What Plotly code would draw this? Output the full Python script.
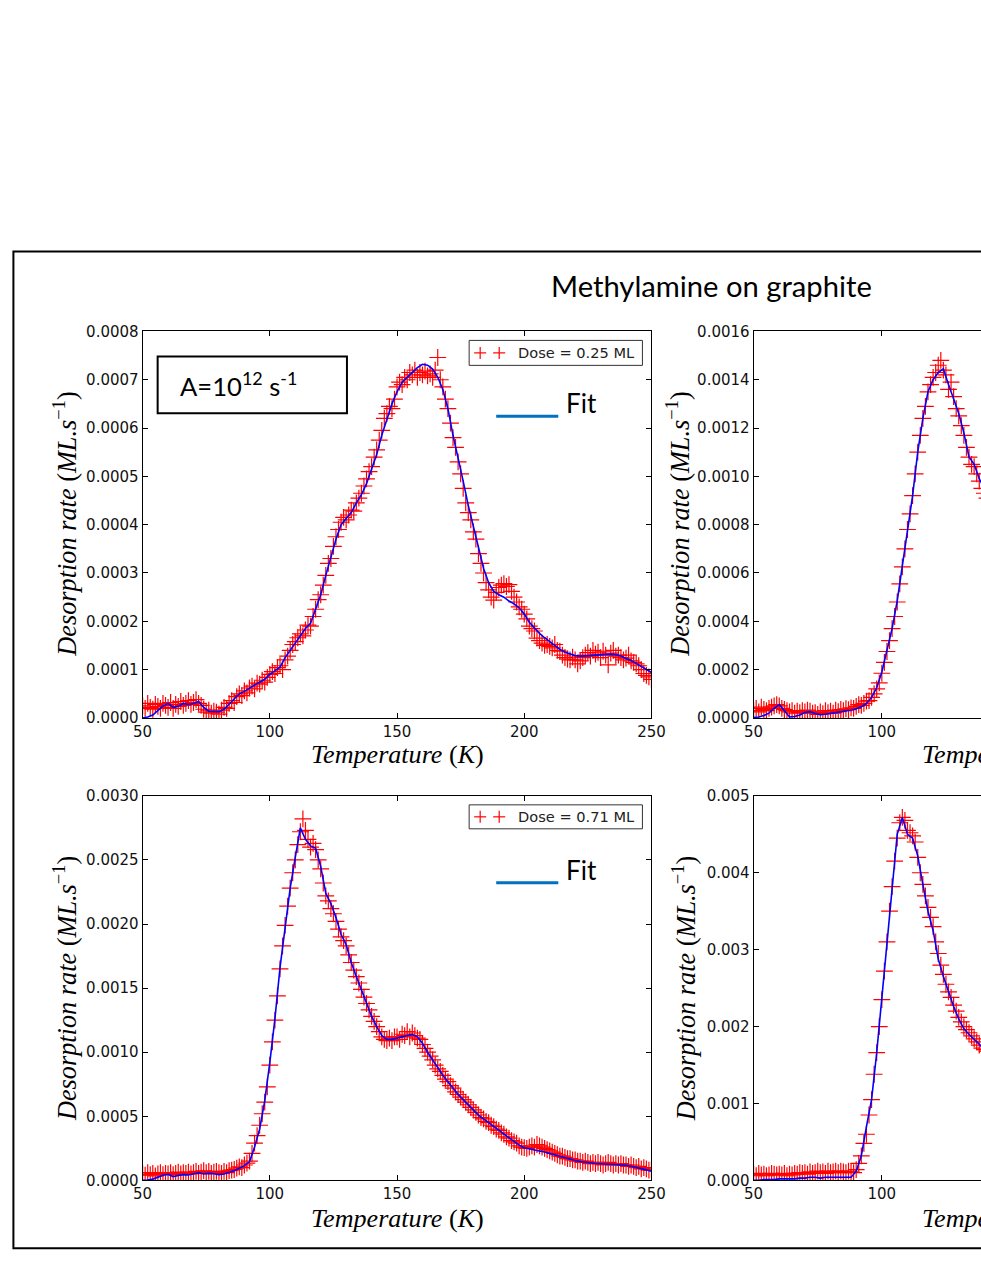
import plotly.graph_objects as go

# figure size (page pixels)
WD, HD = 1000, 1269

# ---------------- data (temperatures in K) ----------------
temp_data_full = list(range(50, 251))      # data sampling, left panels
temp_data_cut = list(range(50, 142))       # data sampling, right panels
temp_fit_full = list(range(50, 251, 2))
temp_fit_cut = list(range(50, 143, 2))

# Panel 1 (dose 0.25 ML), units of 1e-4 ML/s
p1_scale = 1e-4
p1_data = [
    0.25, 0.20, 0.30, 0.22, 0.18, 0.28, 0.24, 0.20, 0.30, 0.26,
    0.22, 0.32, 0.20, 0.28, 0.24, 0.34, 0.26, 0.30, 0.36, 0.28,
    0.32, 0.38, 0.30, 0.26, 0.18, 0.12, 0.16, 0.10, 0.14, 0.12,
    0.08, 0.16, 0.22, 0.20, 0.30, 0.36, 0.32, 0.44, 0.50, 0.46,
    0.56, 0.52, 0.62, 0.66, 0.60, 0.72, 0.70, 0.78, 0.74, 0.84,
    0.90, 0.96, 0.92, 1.04, 1.08, 1.00, 1.20, 1.28, 1.40, 1.52,
    1.58, 1.66, 1.74, 1.70, 1.82, 1.92, 1.90, 2.10, 2.25, 2.45,
    2.55, 2.75, 2.95, 3.20, 3.30, 3.55, 3.75, 3.90, 4.05, 4.15,
    4.10, 4.20, 4.30, 4.28, 4.45, 4.55, 4.65, 4.80, 4.95, 5.10,
    5.20, 5.40, 5.55, 5.75, 5.95, 6.20, 6.30, 6.45, 6.40, 6.60,
    6.85, 6.95, 6.90, 7.05, 7.00, 7.15, 7.10, 7.20, 7.05, 7.15,
    7.10, 7.18, 7.08, 7.12, 7.05, 7.20, 7.46, 7.00, 6.85, 6.60,
    6.40, 6.10, 5.80, 5.60, 5.30, 5.05, 4.75, 4.45, 4.25, 4.10,
    3.85, 3.70, 3.40, 3.20, 3.00, 2.80, 2.65, 2.50, 2.44, 2.60,
    2.70, 2.75, 2.78, 2.72, 2.76, 2.62, 2.50, 2.40, 2.30, 2.25,
    2.15, 2.05, 1.90, 1.85, 1.80, 1.65, 1.60, 1.55, 1.50, 1.52,
    1.48, 1.45, 1.52, 1.40, 1.38, 1.30, 1.25, 1.22, 1.20, 1.26,
    1.20, 1.12, 1.18, 1.25, 1.30, 1.35, 1.28, 1.40, 1.32, 1.36,
    1.25, 1.38, 1.30, 1.10, 1.34, 1.40, 1.28, 1.30, 1.25, 1.20,
    1.24, 1.30, 1.18, 1.15, 1.12, 1.08, 1.00, 0.92, 0.88, 0.85,
    0.80,
]
p1_fit = [
    0.0, 0.02, 0.06, 0.15, 0.25, 0.30, 0.22, 0.24, 0.30, 0.28,
    0.30, 0.34, 0.22, 0.14, 0.14, 0.13, 0.18, 0.28, 0.40, 0.50,
    0.55, 0.62, 0.68, 0.74, 0.80, 0.90, 0.98, 1.05, 1.25, 1.40,
    1.55, 1.70, 1.85, 1.96, 2.25, 2.55, 2.95, 3.33, 3.70, 4.00,
    4.12, 4.25, 4.45, 4.62, 4.85, 5.15, 5.45, 5.85, 6.20, 6.50,
    6.75, 6.95, 7.05, 7.15, 7.25, 7.32, 7.30, 7.22, 7.05, 6.80,
    6.40, 5.85, 5.40, 4.90, 4.40, 3.95, 3.50, 3.10, 2.80, 2.62,
    2.55, 2.50, 2.42, 2.36, 2.28, 2.15, 1.98, 1.86, 1.75, 1.66,
    1.58, 1.50, 1.42, 1.36, 1.32, 1.29, 1.28, 1.28, 1.29, 1.30,
    1.31, 1.32, 1.32, 1.31, 1.28, 1.23, 1.19, 1.13, 1.07, 1.01,
    0.94,
]

# Panel 2 (top right), units of 1e-4 ML/s
p2_scale = 1e-4
p2_data = [
    0.30, 0.40, 0.25, 0.45, 0.35, 0.30, 0.40, 0.45, 0.50, 0.55,
    0.50, 0.40, 0.35, 0.30, 0.25, 0.30, 0.20, 0.28, 0.22, 0.30,
    0.25, 0.32, 0.28, 0.20, 0.22, 0.15, 0.25, 0.18, 0.30, 0.22,
    0.28, 0.20, 0.32, 0.26, 0.35, 0.30, 0.38, 0.34, 0.42, 0.40,
    0.48, 0.55, 0.52, 0.60, 0.70, 0.72, 0.85, 1.00, 1.20, 1.45,
    1.85, 2.30, 2.75, 3.20, 3.70, 4.20, 4.80, 5.55, 6.25, 7.00,
    7.80, 8.45, 9.20, 10.1, 11.0, 11.7, 12.4, 12.9, 13.5, 13.8,
    14.1, 14.3, 14.6, 14.8, 14.4, 14.2, 13.6, 13.9, 13.3, 12.8,
    12.5, 12.1, 11.7, 11.2, 10.8, 10.5, 10.4, 10.1, 9.8, 9.5,
    9.3, 9.1,
]
p2_fit = [
    0.02, 0.04, 0.10, 0.20, 0.40, 0.55, 0.30, 0.04, 0.06, 0.12,
    0.22, 0.26, 0.18, 0.13, 0.15, 0.18, 0.20, 0.25, 0.30, 0.32,
    0.38, 0.46, 0.60, 0.85, 1.25, 1.90, 2.80, 3.70, 4.85, 6.30,
    7.80, 9.20, 11.0, 12.4, 13.5, 14.0, 14.3, 14.45, 13.8, 13.2,
    12.6, 11.8, 10.8, 10.5, 9.9, 9.5, 9.2,
]

# Panel 3 (dose 0.71 ML), units of 1e-4 ML/s
p3_scale = 1e-4
p3_data = [
    0.50, 0.40, 0.60, 0.45, 0.55, 0.35, 0.50, 0.60, 0.45, 0.55,
    0.50, 0.60, 0.45, 0.55, 0.65, 0.50, 0.60, 0.55, 0.65, 0.50,
    0.60, 0.70, 0.55, 0.65, 0.75, 0.60, 0.70, 0.55, 0.65, 0.70,
    0.60, 0.55, 0.70, 0.60, 0.75, 0.80, 0.85, 0.95, 1.05, 1.00,
    1.20, 1.35, 1.50, 2.10, 2.90, 3.50, 4.30, 5.20, 6.10, 7.30,
    9.0, 10.8, 12.5, 14.4, 16.5, 18.3, 19.9, 21.4, 22.8, 24.0,
    25.0, 26.2, 27.2, 28.2, 27.3, 26.6, 26.0, 26.3, 25.8, 25.0,
    24.3, 23.2, 22.2, 21.8, 21.2, 20.8, 20.2, 19.6, 19.0, 18.7,
    18.3, 17.6, 17.0, 16.4, 15.9, 15.4, 14.9, 14.3, 13.8, 13.3,
    12.8, 12.4, 12.0, 11.6, 11.2, 11.0, 10.9, 11.1, 10.9, 11.2,
    11.2, 11.0, 11.4, 11.3, 11.6, 11.2, 11.5, 11.3, 11.1, 11.0,
    10.6, 10.3, 10.0, 9.7, 9.4, 9.0, 8.7, 8.5, 8.2, 7.9,
    7.7, 7.4, 7.2, 6.9, 6.7, 6.5, 6.3, 6.1, 5.9, 5.7,
    5.5, 5.3, 5.1, 4.9, 4.8, 4.6, 4.5, 4.3, 4.2, 4.0,
    3.9, 3.7, 3.6, 3.4, 3.3, 3.1, 3.0, 2.9, 2.7, 2.6,
    2.55, 2.5, 2.6, 2.7, 2.6, 2.8, 2.7, 2.6, 2.5, 2.4,
    2.3, 2.2, 2.1, 2.0, 1.9, 1.9, 1.8, 1.7, 1.7, 1.6,
    1.6, 1.5, 1.5, 1.4, 1.5, 1.4, 1.3, 1.4, 1.3, 1.4,
    1.3, 1.2, 1.3, 1.4, 1.3, 1.2, 1.3, 1.2, 1.3, 1.2,
    1.2, 1.1, 1.2, 1.1, 1.0, 1.1, 0.9, 1.0, 0.9, 0.8,
    0.8,
]
p3_fit = [
    0.0, 0.02, 0.10, 0.25, 0.40, 0.48, 0.30, 0.38, 0.45, 0.42,
    0.52, 0.60, 0.50, 0.55, 0.52, 0.45, 0.50, 0.60, 0.75, 0.95,
    1.15, 1.45, 2.60, 4.00, 6.20, 9.20, 12.6, 16.6, 19.8, 22.8,
    25.2, 27.5, 26.6, 26.1, 25.9, 24.5, 22.4, 21.6, 20.5, 19.2,
    18.4, 17.0, 15.9, 14.9, 13.8, 12.8, 12.0, 11.3, 11.0, 11.0,
    11.1, 11.2, 11.35, 11.4, 11.2, 10.7, 10.0, 9.4, 8.7, 8.2,
    7.7, 7.2, 6.7, 6.3, 5.9, 5.5, 5.1, 4.8, 4.5, 4.2,
    3.9, 3.6, 3.3, 3.0, 2.75, 2.55, 2.45, 2.38, 2.30, 2.22,
    2.10, 1.98, 1.86, 1.75, 1.65, 1.55, 1.48, 1.42, 1.36, 1.32,
    1.30, 1.28, 1.26, 1.25, 1.24, 1.18, 1.10, 1.02, 0.92, 0.82,
    0.72,
]

# Panel 4 (bottom right), units of 1e-3 ML/s
p4_scale = 1e-3
p4_data = [
    0.08, 0.06, 0.09, 0.07, 0.08, 0.06, 0.07, 0.09, 0.08, 0.07,
    0.08, 0.07, 0.09, 0.06, 0.08, 0.07, 0.09, 0.08, 0.10, 0.09,
    0.10, 0.08, 0.11, 0.09, 0.10, 0.12, 0.10, 0.11, 0.09, 0.12,
    0.10, 0.11, 0.12, 0.10, 0.12, 0.11, 0.10, 0.12, 0.11, 0.10,
    0.14, 0.22, 0.32, 0.48, 0.60, 0.85, 1.05, 1.38, 1.66, 2.00,
    2.35, 2.72, 3.10, 3.50, 3.82, 4.15, 4.45, 4.65, 4.72, 4.68,
    4.55, 4.52, 4.48, 4.40, 4.20, 4.00, 3.85, 3.70, 3.55, 3.42,
    3.30, 3.10, 2.95, 2.80, 2.68, 2.55, 2.45, 2.38, 2.28, 2.20,
    2.12, 2.06, 2.00, 1.96, 1.92, 1.88, 1.84, 1.80, 1.76, 1.72,
    1.70, 1.68,
]
p4_fit = [
    0.0, 0.0, 0.01, 0.01, 0.01, 0.02, 0.02, 0.02, 0.02, 0.03,
    0.03, 0.04, 0.04, 0.03, 0.04, 0.04, 0.04, 0.04, 0.04, 0.04,
    0.12, 0.32, 0.70, 1.05, 1.66, 2.39, 3.13, 3.85, 4.50, 4.72,
    4.50, 4.45, 4.22, 3.85, 3.50, 3.25, 2.88, 2.65, 2.45, 2.26,
    2.10, 1.97, 1.90, 1.84, 1.77, 1.70, 1.66,
]

x_ticks_full = [50, 100, 150, 200, 250]
x_ticks_cut = [50, 100]
legend_labels = ["Dose = 0.25 ML", "Dose = 0.71 ML"]
title_text = "Methylamine on graphite"
ylabel_text = "<i>Desorption rate</i> (<i>ML.s</i><sup>\u22121</sup>)"
xlabel_text = "<i>Temperature</i> (<i>K</i>)"

# ---------------- page placement helpers ----------------
# The photographed page is slightly rescaled and offset; these constants map
# a target picture position to the figure's own pixel position.
SX, OX = 0.9744, 9.6
SY, OY = 0.987, 8.2


def mx(x):
    return (x - OX) / SX


def my(y):
    return (y - OY) / SY


def px(x):
    return mx(x) / WD


def py(y):
    return 1 - my(y) / HD


FS = 1 / ((SX + SY) / 2)   # font-size compensation

fig = go.Figure()

panels = [
    (temp_data_full, p1_data, temp_fit_full, p1_fit, p1_scale, "x", "y"),
    (temp_data_cut, p2_data, temp_fit_cut, p2_fit, p2_scale, "x2", "y2"),
    (temp_data_full, p3_data, temp_fit_full, p3_fit, p3_scale, "x3", "y3"),
    (temp_data_cut, p4_data, temp_fit_cut, p4_fit, p4_scale, "x4", "y4"),
]
for td, d, tf, f, s, xa, ya in panels:
    fig.add_trace(go.Scatter(
        x=td, y=[v * s for v in d], mode="markers", xaxis=xa, yaxis=ya,
        marker=dict(symbol="cross-thin", size=12,
                    line=dict(width=1.2, color="rgb(255,0,0)")),
        showlegend=False, hoverinfo="skip"))
    fig.add_trace(go.Scatter(
        x=tf, y=[v * s for v in f], mode="lines", xaxis=xa, yaxis=ya,
        line=dict(color="rgb(0,0,255)", width=1.6),
        showlegend=False, hoverinfo="skip"))

tickfont = dict(family="DejaVu Sans", size=15, color="#111")
common = dict(showline=True, linecolor="black", linewidth=1, ticks="inside",
              ticklen=5, tickwidth=1, tickcolor="black", showgrid=False,
              zeroline=False, tickfont=tickfont)

left_dom = [px(142), px(650)]
right_dom = [px(752), 1.0]
top_dom = [py(718), py(331)]
bot_dom = [py(1181), py(796)]
k_per_px_right = 50 / (mx(880) - mx(752))
x_cut_max = 50 + (WD - mx(752)) * k_per_px_right

fig.update_layout(
    width=WD, height=HD, autosize=False,
    margin=dict(l=0, r=0, t=0, b=0),
    paper_bgcolor="white", plot_bgcolor="white", showlegend=False,
    xaxis=dict(domain=left_dom, anchor="y", range=[50, 250],
               tickvals=x_ticks_full, mirror="ticks", **common),
    yaxis=dict(domain=top_dom, anchor="x", range=[0, 0.0008], dtick=0.0001,
               tick0=0, tickformat=".4f", mirror="ticks", **common),
    xaxis2=dict(domain=right_dom, anchor="y2", range=[50, x_cut_max],
                tickvals=x_ticks_cut, mirror="ticks", **common),
    yaxis2=dict(domain=top_dom, anchor="x2", range=[0, 0.0016], dtick=0.0002,
                tick0=0, tickformat=".4f", mirror=False, **common),
    xaxis3=dict(domain=left_dom, anchor="y3", range=[50, 250],
                tickvals=x_ticks_full, mirror="ticks", **common),
    yaxis3=dict(domain=bot_dom, anchor="x3", range=[0, 0.003], dtick=0.0005,
                tick0=0, tickformat=".4f", mirror="ticks", **common),
    xaxis4=dict(domain=right_dom, anchor="y4", range=[50, x_cut_max],
                tickvals=x_ticks_cut, mirror="ticks", **common),
    yaxis4=dict(domain=bot_dom, anchor="x4", range=[0, 0.005], dtick=0.001,
                tick0=0, tickformat=".3f", mirror=False, **common),
)

shapes = []
ann = []

# outer frame (extends past the right edge of the page)
shapes.append(dict(type="rect", xref="paper", yref="paper",
                   x0=px(13), x1=px(1030), y0=py(1249), y1=py(251),
                   line=dict(color="black", width=2)))

# title
ann.append(dict(text=title_text, x=px(710), y=py(285), xref="paper",
                yref="paper", showarrow=False, xanchor="center",
                yanchor="middle",
                font=dict(family="Lato", size=29.2 * FS / 1.02,
                          color="black")))

# A = 10^12 s^-1 box
shapes.append(dict(type="rect", xref="paper", yref="paper",
                   x0=px(157), x1=px(346), y0=py(413), y1=py(356),
                   line=dict(color="black", width=2)))
ann.append(dict(text="A=10<sup>12</sup> s<sup>-1</sup>", x=px(238),
                y=py(384), xref="paper", yref="paper", showarrow=False,
                xanchor="center", yanchor="middle",
                font=dict(family="Lato", size=25.6, color="black")))

# axis labels
for xc in (65, 677):
    for yc in (524, 989):
        xx = xc if not (xc == 677 and yc == 989) else 683
        ann.append(dict(text=ylabel_text, x=px(xx), y=py(yc), xref="paper",
                        yref="paper", showarrow=False, textangle=-90,
                        xanchor="center", yanchor="middle",
                        font=dict(family="Liberation Serif", size=26.3,
                                  color="black")))
for xc in (396, 1006):
    for yc in (755, 1219):
        ann.append(dict(text=xlabel_text, x=px(xc), y=py(yc), xref="paper",
                        yref="paper", showarrow=False, xanchor="center",
                        yanchor="middle",
                        font=dict(family="Liberation Serif", size=26.1,
                                  color="black")))

# legends (data) and "Fit" keys on the left panels
for (ytop, ybot, yfit_line, yfit_text, label) in (
        (340, 365, 416, 403, legend_labels[0]),
        (805, 829, 883, 870, legend_labels[1])):
    shapes.append(dict(type="rect", xref="paper", yref="paper",
                       x0=px(468), x1=px(641), y0=py(ybot), y1=py(ytop),
                       line=dict(color="#333", width=1),
                       fillcolor="white", layer="above"))
    yc = (ytop + ybot) / 2
    for cx in (479, 498):
        shapes.append(dict(type="line", xref="paper", yref="paper",
                           x0=px(cx - 6), x1=px(cx + 6), y0=py(yc), y1=py(yc),
                           line=dict(color="rgb(255,0,0)", width=1.2)))
        shapes.append(dict(type="line", xref="paper", yref="paper",
                           x0=px(cx), x1=px(cx), y0=py(yc - 6), y1=py(yc + 6),
                           line=dict(color="rgb(255,0,0)", width=1.2)))
    ann.append(dict(text=label, x=px(515), y=py(yc), xref="paper",
                    yref="paper", showarrow=False, xanchor="left",
                    yanchor="middle",
                    font=dict(family="DejaVu Sans", size=14.6, color="#222")))
    shapes.append(dict(type="line", xref="paper", yref="paper",
                       x0=px(495), x1=px(557), y0=py(yfit_line),
                       y1=py(yfit_line),
                       line=dict(color="#0070C0", width=3)))
    ann.append(dict(text="Fit", x=px(563), y=py(yfit_text), xref="paper",
                    yref="paper", showarrow=False, xanchor="left",
                    yanchor="middle",
                    font=dict(family="Lato", size=26, color="black")))

fig.update_layout(shapes=shapes, annotations=ann)

fig.write_html(
    "out.html",
    config={"displayModeBar": False},
    post_script="document.body.style.margin='0';"
                "document.body.style.padding='0';"
                "document.body.style.overflow='hidden';"
                "document.documentElement.style.overflow='hidden';",
)
